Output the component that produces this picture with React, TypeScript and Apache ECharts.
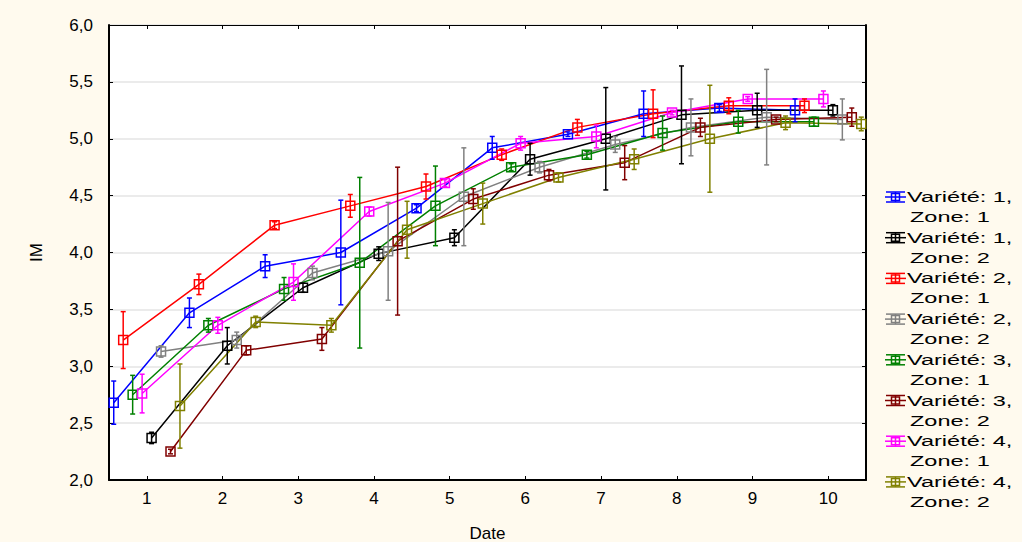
import React, { useEffect, useRef } from "react";
import * as echarts from "echarts";

// ---------- data ----------
const DATES = [1, 2, 3, 4, 5, 6, 7, 8, 9, 10];
const Y_TICKS = [2.0, 2.5, 3.0, 3.5, 4.0, 4.5, 5.0, 5.5, 6.0];

const SERIES_LINE1 = ["Variété: 1,", "Variété: 1,", "Variété: 2,", "Variété: 2,", "Variété: 3,", "Variété: 3,", "Variété: 4,", "Variété: 4,"];
const SERIES_LINE2 = ["Zone: 1", "Zone: 2", "Zone: 1", "Zone: 2", "Zone: 1", "Zone: 2", "Zone: 1", "Zone: 2"];

const V1Z1_MEAN = [2.68, 3.47, 3.88, 4.0, 4.39, 4.92, 5.04, 5.22, 5.27, 5.25];
const V1Z1_ERR = [0.19, 0.13, 0.1, 0.46, 0.03, 0.1, 0.02, 0.2, 0.03, 0.1];
const V1Z2_MEAN = [2.37, 3.18, 3.69, 3.99, 4.13, 4.82, 5.0, 5.21, 5.25, 5.25];
const V1Z2_ERR = [0.05, 0.16, 0.04, 0.06, 0.07, 0.14, 0.45, 0.43, 0.15, 0.05];
const V2Z1_MEAN = [3.23, 3.72, 4.24, 4.41, 4.58, 4.86, 5.1, 5.22, 5.29, 5.29];
const V2Z1_ERR = [0.25, 0.09, 0.03, 0.1, 0.11, 0.05, 0.07, 0.21, 0.07, 0.06];
const V2Z2_MEAN = [3.13, 3.23, 3.82, 4.01, 4.49, 4.75, 4.95, 5.1, 5.19, 5.17];
const V2Z2_ERR = [0.05, 0.07, 0.06, 0.43, 0.43, 0.05, 0.07, 0.25, 0.42, 0.18];
const V3Z1_MEAN = [2.75, 3.36, 3.68, 3.91, 4.41, 4.75, 4.86, 5.05, 5.15, 5.15];
const V3Z1_ERR = [0.17, 0.06, 0.1, 0.75, 0.35, 0.03, 0.03, 0.15, 0.1, 0.04];
const V3Z2_MEAN = [2.25, 3.14, 3.24, 4.1, 4.47, 4.68, 4.79, 5.1, 5.17, 5.19];
const V3Z2_ERR = [0.02, 0.04, 0.1, 0.65, 0.09, 0.05, 0.15, 0.08, 0.02, 0.08];
const V4Z1_MEAN = [2.76, 3.36, 3.74, 4.36, 4.61, 4.96, 5.02, 5.23, 5.35, 5.35];
const V4Z1_ERR = [0.17, 0.07, 0.16, 0.04, 0.03, 0.06, 0.1, 0.02, 0.02, 0.07];
const V4Z2_MEAN = [2.65, 3.39, 3.36, 4.2, 4.43, 4.66, 4.82, 5.0, 5.14, 5.13];
const V4Z2_ERR = [0.37, 0.05, 0.06, 0.25, 0.18, 0.04, 0.09, 0.47, 0.06, 0.06];

const MEANS = [V1Z1_MEAN, V1Z2_MEAN, V2Z1_MEAN, V2Z2_MEAN, V3Z1_MEAN, V3Z2_MEAN, V4Z1_MEAN, V4Z2_MEAN];
const ERRS = [V1Z1_ERR, V1Z2_ERR, V2Z1_ERR, V2Z2_ERR, V3Z1_ERR, V3Z2_ERR, V4Z1_ERR, V4Z2_ERR];

// ---------- styling ----------
const COLORS = ["#0000ff", "#000000", "#ff0000", "#808080", "#008000", "#800000", "#ff00ff", "#808000"];
// horizontal dodge of each group around the date
const DODGE = [-0.4375, 0.0625, -0.3125, 0.1875, -0.1875, 0.3125, -0.0625, 0.4375];
const BG = "#fffaee";
const FONT = "'Liberation Sans', Arial, sans-serif";

export default function App() {
  const ref = useRef<HTMLDivElement>(null);

  useEffect(() => {
    document.body.style.margin = "0";
    const chart = echarts.init(ref.current as HTMLDivElement, undefined, { renderer: "svg" });

    const series: any[] = [];
    MEANS.forEach((mean, si) => {
      const color = COLORS[si];
      const name = SERIES_LINE1[si] + " " + SERIES_LINE2[si];
      series.push({
        type: "line",
        name,
        data: DATES.map((d, i) => [d + DODGE[si], mean[i]]),
        showSymbol: false,
        symbol: "none",
        lineStyle: { color, width: 1.5 },
        itemStyle: { color },
        z: 2,
        silent: true,
      });
      series.push({
        type: "custom",
        name: name + " err",
        data: DATES.map((d, i) => [d + DODGE[si], mean[i], mean[i] - ERRS[si][i], mean[i] + ERRS[si][i]]),
        encode: { x: 0, y: [1, 2, 3] },
        z: 3,
        silent: true,
        renderItem: (params: any, api: any) => {
          const x = api.value(0);
          const c = api.coord([x, api.value(1)]);
          const lo = api.coord([x, api.value(2)]);
          const hi = api.coord([x, api.value(3)]);
          const hw = 2.5;
          const s = 4.5;
          const st = { stroke: color, lineWidth: 1.5, fill: "none" };
          return {
            type: "group",
            children: [
              { type: "line", shape: { x1: c[0], y1: hi[1], x2: c[0], y2: lo[1] }, style: st },
              { type: "line", shape: { x1: c[0] - hw, y1: hi[1], x2: c[0] + hw, y2: hi[1] }, style: st },
              { type: "line", shape: { x1: c[0] - hw, y1: lo[1], x2: c[0] + hw, y2: lo[1] }, style: st },
              { type: "rect", shape: { x: c[0] - s, y: c[1] - s, width: 2 * s, height: 2 * s }, style: st },
            ],
          };
        },
      });
    });

    // legend drawn as graphic groups
    const legend: any[] = [];
    COLORS.forEach((color, i) => {
      const cy = 197 + i * 40.7;
      const st = { stroke: color, lineWidth: 1.5, fill: "none" };
      legend.push({
        type: "group",
        children: [
          { type: "line", shape: { x1: 885, y1: cy, x2: 906, y2: cy }, style: st },
          { type: "line", shape: { x1: 886, y1: cy - 5, x2: 905, y2: cy - 5 }, style: st },
          { type: "line", shape: { x1: 886, y1: cy + 5, x2: 905, y2: cy + 5 }, style: st },
          { type: "line", shape: { x1: 895.5, y1: cy - 5, x2: 895.5, y2: cy + 5 }, style: st },
          { type: "rect", shape: { x: 891.5, y: cy - 3.5, width: 8, height: 7 }, style: st },
          {
            type: "text",
            x: 907,
            y: cy,
            scaleX: 1.68,
            style: { text: SERIES_LINE1[i], font: "14px " + FONT, fill: "#000", verticalAlign: "middle", align: "left" },
          },
          {
            type: "text",
            x: 910,
            y: cy + 20,
            scaleX: 1.68,
            style: { text: SERIES_LINE2[i], font: "14px " + FONT, fill: "#000", verticalAlign: "middle", align: "left" },
          },
        ],
      });
    });

    const fmt = (v: number) => v.toFixed(1).replace(".", ",");

    chart.setOption({
      animation: false,
      backgroundColor: BG,
      grid: {
        left: 109,
        right: 156,
        top: 25,
        bottom: 62,
        outerBoundsMode: "none",
        containLabel: false,
        show: true,
        backgroundColor: "#ffffff",
        borderWidth: 0,
      },
      xAxis: [
        {
          type: "value",
          min: 0.5,
          max: 10.5,
          splitNumber: 10,
          minInterval: 1,
          maxInterval: 1,
          name: "Date",
          nameLocation: "middle",
          nameGap: 45,
          nameTextStyle: { fontFamily: FONT, fontSize: 17, color: "#000" },
          axisLine: { show: true, lineStyle: { color: "#000", width: 2 } },
          axisTick: { show: true, inside: true, length: 4, lineStyle: { color: "#000" } },
          axisLabel: {
            showMinLabel: false,
            showMaxLabel: false,
            margin: 10,
            fontFamily: FONT,
            fontSize: 17,
            color: "#000",
            formatter: (v: number) => (Number.isInteger(v) ? String(v) : ""),
          },
          splitLine: { show: false },
        },
        {
          type: "value",
          position: "top",
          min: 0.5,
          max: 10.5,
          splitNumber: 10,
          minInterval: 1,
          maxInterval: 1,
          axisLine: { show: true, lineStyle: { color: "#000", width: 1 } },
          axisTick: { show: true, inside: true, length: 4, lineStyle: { color: "#000" } },
          axisLabel: { show: false },
          splitLine: { show: false },
        },
      ],
      yAxis: [
        {
          type: "value",
          min: 2,
          max: 6,
          interval: 0.5,
          name: "IM",
          nameLocation: "middle",
          nameGap: 64,
          nameTextStyle: { fontFamily: FONT, fontSize: 17, color: "#000" },
          axisLine: { show: true, lineStyle: { color: "#000", width: 2 } },
          axisTick: { show: true, inside: true, length: 4, lineStyle: { color: "#000" } },
          axisLabel: { margin: 16, fontFamily: FONT, fontSize: 17, color: "#000", formatter: fmt },
          splitLine: { show: true, lineStyle: { color: "#e4e4e4", width: 1.5 } },
        },
        {
          type: "value",
          position: "right",
          min: 2,
          max: 6,
          interval: 0.5,
          axisLine: { show: true, lineStyle: { color: "#000", width: 2 } },
          axisTick: { show: true, inside: true, length: 4, lineStyle: { color: "#000" } },
          axisLabel: { show: false },
          splitLine: { show: false },
        },
      ],
      series,
      graphic: legend,
    });

    return () => chart.dispose();
  }, []);

  return <div ref={ref} style={{ width: 1022, height: 542 }} />;
}
